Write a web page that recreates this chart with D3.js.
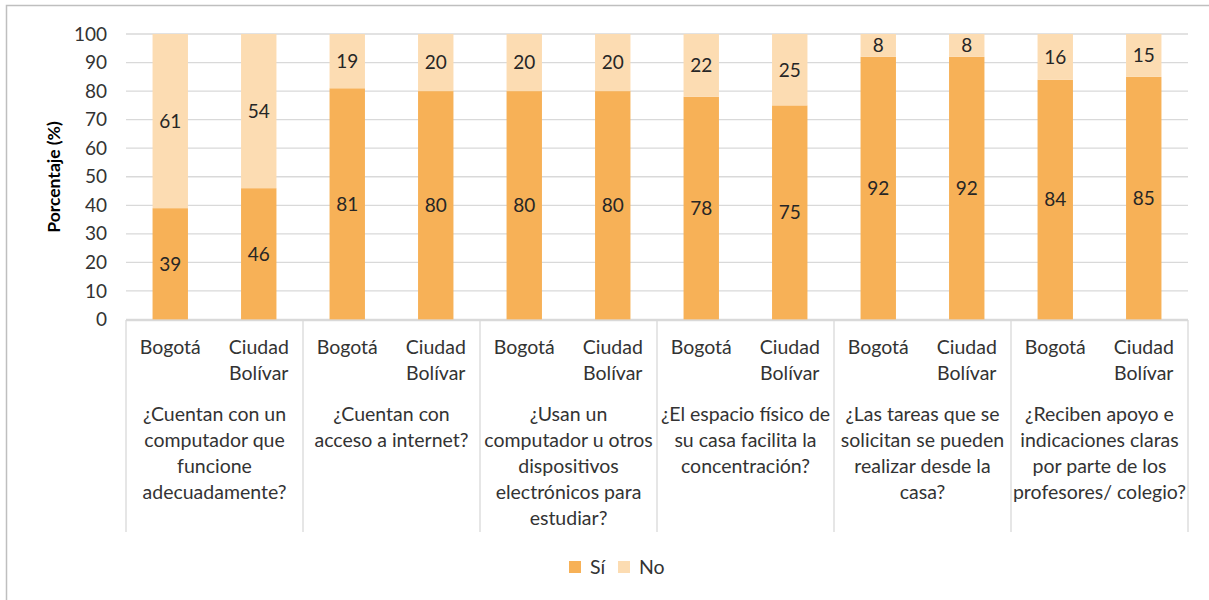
<!DOCTYPE html>
<html>
<head>
<meta charset="utf-8">
<script src="https://cdn.jsdelivr.net/npm/d3@7"></script>
<style>
  html, body { margin: 0; padding: 0; background: #fff; }
  svg { display: block; font-family: Lato, "Open Sans", sans-serif; }
</style>
</head>
<body>
<svg id="chart" width="1209" height="600"></svg>
<script>
// Survey answers, two places per question
const places = ["Bogotá", "Ciudad Bolívar"];
const questions = [
  ["¿Cuentan con un", "computador que", "funcione", "adecuadamente?"],
  ["¿Cuentan con", "acceso a internet?"],
  ["¿Usan un", "computador u otros", "dispositivos", "electrónicos para", "estudiar?"],
  ["¿El espacio físico de", "su casa facilita la", "concentración?"],
  ["¿Las tareas que se", "solicitan se pueden", "realizar desde la", "casa?"],
  ["¿Reciben apoyo e", "indicaciones claras", "por parte de los", "profesores/ colegio?"]
];
const siValues = [39, 46, 81, 80, 80, 80, 78, 75, 92, 92, 84, 85];
const noValues = [61, 54, 19, 20, 20, 20, 22, 25, 8, 8, 16, 15];
const yTicks = [0, 10, 20, 30, 40, 50, 60, 70, 80, 90, 100];
const seriesNames = ["Sí", "No"];
const colors = { "Sí": "#F7B157", "No": "#FCDCB2" };

const textColor = "#333333";
const labelSize = 19.5;

const svg = d3.select("#chart");

// chart frame
svg.append("rect")
  .attr("x", 6.5).attr("y", 5.5)
  .attr("width", 1220).attr("height", 620)
  .attr("fill", "none").attr("stroke", "#bfbfbf").attr("stroke-width", 1.5);

const plotLeft = 126, plotRight = 1188, plotTop = 34, plotBottom = 319.5;

const rows = [];
questions.forEach((q, qi) => {
  places.forEach((p, pi) => {
    const i = qi * places.length + pi;
    rows.push({ key: i, question: qi, place: p, "Sí": siValues[i], "No": noValues[i] });
  });
});

const x = d3.scaleBand()
  .domain(rows.map(d => d.key))
  .range([plotLeft, plotRight])
  .paddingInner(0.6)
  .paddingOuter(0.3);

const y = d3.scaleLinear().domain([0, 100]).range([plotBottom, plotTop]);

// horizontal gridlines
svg.append("g")
  .selectAll("line")
  .data(yTicks)
  .join("line")
  .attr("x1", plotLeft).attr("x2", plotRight)
  .attr("y1", d => y(d)).attr("y2", d => y(d))
  .attr("stroke", "#d9d9d9").attr("stroke-width", 1.3);

// y axis labels
const yAxis = svg.append("g")
  .attr("transform", `translate(${plotLeft},0)`)
  .call(d3.axisLeft(y).tickValues(yTicks).tickSize(0).tickPadding(19));
yAxis.select(".domain").remove();
yAxis.selectAll("text")
  .attr("font-size", 19).attr("fill", textColor)
  .attr("font-family", "Lato, 'Open Sans', sans-serif");

svg.append("text")
  .attr("transform", `translate(60,177) rotate(-90)`)
  .attr("text-anchor", "middle")
  .attr("font-size", 17.5).attr("font-weight", "bold").attr("fill", "#000")
  .text("Porcentaje (%)");

// stacked bars
const stack = d3.stack().keys(seriesNames)(rows);
const layers = svg.append("g").selectAll("g")
  .data(stack)
  .join("g")
  .attr("fill", d => colors[d.key]);

layers.selectAll("rect")
  .data(d => d)
  .join("rect")
  .attr("x", d => x(d.data.key))
  .attr("width", x.bandwidth())
  .attr("y", d => y(d[1]))
  .attr("height", d => y(d[0]) - y(d[1]));

// value labels in the middle of each segment
layers.selectAll("text")
  .data(d => d.map(s => ({ s, key: d.key })))
  .join("text")
  .attr("x", d => x(d.s.data.key) + x.bandwidth() / 2)
  .attr("y", d => y((d.s[0] + d.s[1]) / 2))
  .attr("dy", "0.36em")
  .attr("text-anchor", "middle")
  .attr("font-size", 19).attr("fill", "#262626")
  .text(d => d.s.data[d.key]);

// multi-level category axis
const axisColor = "#d9d9d9";
const axisG = svg.append("g");
axisG.append("line")
  .attr("x1", plotLeft).attr("x2", plotRight)
  .attr("y1", 320.5).attr("y2", 320.5)
  .attr("stroke", axisColor).attr("stroke-width", 1.3);

const groupBounds = d3.range(questions.length + 1).map(g =>
  g === questions.length ? plotRight : x(g * places.length) - x.step() * x.paddingOuter());
axisG.selectAll("line.sep")
  .data(groupBounds)
  .join("line")
  .attr("class", "sep")
  .attr("x1", d => d).attr("x2", d => d)
  .attr("y1", 320).attr("y2", 532)
  .attr("stroke", axisColor).attr("stroke-width", 1.3);

// place names
axisG.selectAll("text.place")
  .data(rows)
  .join("text")
  .attr("class", "place")
  .attr("text-anchor", "middle")
  .attr("font-size", labelSize).attr("fill", textColor)
  .each(function(d) {
    const words = d.place === "Ciudad Bolívar" ? ["Ciudad", "Bolívar"] : [d.place];
    d3.select(this).selectAll("tspan")
      .data(words)
      .join("tspan")
      .attr("x", x(d.key) + x.bandwidth() / 2)
      .attr("y", (w, i) => 354 + i * 26)
      .text(w => w);
  });

// question names
axisG.selectAll("text.question")
  .data(questions)
  .join("text")
  .attr("class", "question")
  .attr("text-anchor", "middle")
  .attr("font-size", labelSize).attr("fill", textColor)
  .each(function(lines, qi) {
    const cx = (groupBounds[qi] + groupBounds[qi + 1]) / 2;
    d3.select(this).selectAll("tspan")
      .data(lines)
      .join("tspan")
      .attr("x", cx)
      .attr("y", (w, i) => 421 + i * 26)
      .text(w => w);
  });

// legend
const legend = svg.append("g");
const legendItems = [{ name: "Sí", x: 569 }, { name: "No", x: 618 }];
legendItems.forEach(item => {
  legend.append("rect")
    .attr("x", item.x).attr("y", 561)
    .attr("width", 12).attr("height", 12)
    .attr("fill", colors[item.name]);
  legend.append("text")
    .attr("x", item.x + 21).attr("y", 574)
    .attr("font-size", labelSize).attr("fill", textColor)
    .text(item.name);
});
</script>
</body>
</html>
